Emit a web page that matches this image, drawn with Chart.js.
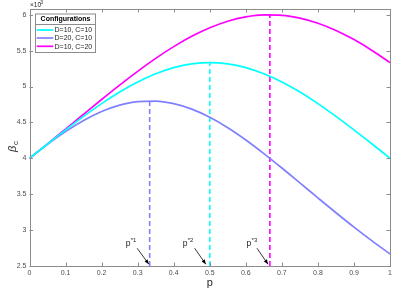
<!DOCTYPE html>
<html>
<head>
<meta charset="utf-8">
<script src="https://cdn.jsdelivr.net/npm/chart.js@4.4.1/dist/chart.umd.min.js"></script>
<style>
  html, body { margin: 0; padding: 0; background: #fff; }
  #wrap { width: 395px; height: 290px; }
</style>
</head>
<body>
<div id="wrap"><canvas id="betaChart"></canvas></div>
<script>
// p values and beta_c (x 1e-3)
var pValues = [0, 0.05, 0.1, 0.15, 0.2, 0.25, 0.3, 0.35, 0.4, 0.45, 0.5,
               0.55, 0.6, 0.65, 0.7, 0.75, 0.8, 0.85, 0.9, 0.95, 1];
var betaD10C10 = [4, 4.1995, 4.3956, 4.5845, 4.7619, 4.9231, 5.0633, 5.1780, 5.2632, 5.3156, 5.3333,
                  5.3156, 5.2632, 5.1780, 5.0633, 4.9231, 4.7619, 4.5845, 4.3956, 4.1995, 4];
var betaD20C10 = [4, 4.1940, 4.3716, 4.5262, 4.6512, 4.7407, 4.7904, 4.7976, 4.7619, 4.6852, 4.5714,
                  4.4260, 4.2553, 4.0661, 3.8647, 3.6571, 3.4483, 3.2421, 3.0418, 2.8495, 2.6667];
var betaD10C20 = [4, 4.2022, 4.4077, 4.6143, 4.8193, 5.0196, 5.2117, 5.3917, 5.5556, 5.6990, 5.8182,
                  5.9095, 5.9701, 5.9981, 5.9925, 5.9535, 5.8824, 5.7814, 5.6537, 5.5030, 5.3333];

var seriesNames = ["D=10, C=10", "D=20, C=10", "D=10, C=20"];
var seriesColors = ["#00ffff", "#8080ff", "#ff00ff"];

// optimal p* and the peak value for each configuration
var pStar = [0.5, 0.3333, 0.6667];
var betaStar = [5.3333, 4.8, 6.0];

// text arrows p*1, p*2, p*3 (data coordinates)
var arrowNames = ["1", "2", "3"];
var arrowTailP = [0.2986, 0.458, 0.631];
var arrowTipP = [0.331, 0.489, 0.6615];
var labelP = [0.267, 0.425, 0.602];

var xTicks = [0, 0.1, 0.2, 0.3, 0.4, 0.5, 0.6, 0.7, 0.8, 0.9, 1];
var yTicks = [2.5, 3, 3.5, 4, 4.5, 5, 5.5, 6];

function toPoints(xs, ys) {
    var pts = [];
    for (var i = 0; i < xs.length; i++) pts.push({x: xs[i], y: ys[i]});
    return pts;
}

function plainLabel(v) {
    return String(Math.round(v * 100) / 100);
}

var curves = [betaD10C10, betaD20C10, betaD10C20];
var datasets = [];
for (var i = 0; i < curves.length; i++) {
    datasets.push({
        label: seriesNames[i],
        data: toPoints(pValues, curves[i]),
        borderColor: seriesColors[i],
        borderWidth: 1.7,
        pointRadius: 0,
        cubicInterpolationMode: 'monotone',
        fill: false
    });
}
for (var j = 0; j < pStar.length; j++) {
    datasets.push({
        label: "p*" + (j + 1),
        data: [{x: pStar[j], y: 2.5}, {x: pStar[j], y: betaStar[j]}],
        borderColor: seriesColors[j],
        borderWidth: 1.6,
        borderDash: [5, 3],
        pointRadius: 0,
        fill: false
    });
}

var FONT = "'Liberation Sans', Arial, sans-serif";

var decorations = {
    id: 'decorations',
    afterDraw: function(chart) {
        var ctx = chart.ctx;
        var a = chart.chartArea;
        var xs = chart.scales.x, ys = chart.scales.y;
        ctx.save();

        // axes box with inward ticks
        ctx.strokeStyle = '#8c8c8c';
        ctx.lineWidth = 1;
        ctx.strokeRect(Math.round(a.left) + 0.5, Math.round(a.top) + 0.5,
                       Math.round(a.right - a.left) - 1, Math.round(a.bottom - a.top));
        ctx.beginPath();
        xs.ticks.forEach(function(t) {
            var px = Math.round(xs.getPixelForValue(t.value)) + 0.5;
            ctx.moveTo(px, a.bottom); ctx.lineTo(px, a.bottom - 3.5);
            ctx.moveTo(px, a.top); ctx.lineTo(px, a.top + 3.5);
        });
        ys.ticks.forEach(function(t) {
            var py = Math.round(ys.getPixelForValue(t.value)) + 0.5;
            ctx.moveTo(a.left, py); ctx.lineTo(a.left + 3.5, py);
            ctx.moveTo(a.right, py); ctx.lineTo(a.right - 3.5, py);
        });
        ctx.stroke();

        // x label
        ctx.fillStyle = '#262626';
        ctx.font = '11px ' + FONT;
        ctx.textAlign = 'center';
        ctx.textBaseline = 'middle';
        ctx.fillText('p', (a.left + a.right) / 2, 283);

        // y label beta_c
        ctx.save();
        ctx.translate(13, 147);
        ctx.rotate(-Math.PI / 2);
        ctx.font = 'italic 11px ' + FONT;
        ctx.textAlign = 'left';
        ctx.fillText('\u03b2', -5, 0);
        ctx.font = '8px ' + FONT;
        ctx.fillText('c', 2, 3);
        ctx.restore();

        // exponent label
        ctx.font = '6.5px ' + FONT;
        ctx.textAlign = 'left';
        ctx.fillText('\u00d710', 30, 5);
        ctx.font = '5px ' + FONT;
        ctx.fillText('-3', 38.5, 2.5);

        // text arrows
        var tailY = ys.getPixelForValue(2.747), tipY = ys.getPixelForValue(2.525);
        var labY = ys.getPixelForValue(2.82);
        for (var k = 0; k < arrowNames.length; k++) {
            var x0 = xs.getPixelForValue(arrowTailP[k]), x1 = xs.getPixelForValue(arrowTipP[k]);
            ctx.strokeStyle = '#000';
            ctx.fillStyle = '#000';
            ctx.lineWidth = 0.8;
            ctx.beginPath();
            ctx.moveTo(x0, tailY);
            ctx.lineTo(x1, tipY);
            ctx.stroke();
            var ang = Math.atan2(tipY - tailY, x1 - x0);
            ctx.beginPath();
            ctx.moveTo(x1, tipY);
            ctx.lineTo(x1 - 5 * Math.cos(ang - 0.38), tipY - 5 * Math.sin(ang - 0.38));
            ctx.lineTo(x1 - 5 * Math.cos(ang + 0.38), tipY - 5 * Math.sin(ang + 0.38));
            ctx.closePath();
            ctx.fill();

            var lx = xs.getPixelForValue(labelP[k]);
            ctx.fillStyle = '#262626';
            ctx.font = '8.5px ' + FONT;
            ctx.textAlign = 'left';
            ctx.fillText('p', lx, labY + 1);
            ctx.font = '6px ' + FONT;
            ctx.fillText('*' + arrowNames[k], lx + 5, labY - 2.5);
        }

        // legend
        var lx0 = 35, ly0 = 13.5, lw = 60, lh = 38.5;
        ctx.fillStyle = '#fff';
        ctx.fillRect(lx0, ly0, lw, lh);
        ctx.strokeStyle = '#8c8c8c';
        ctx.lineWidth = 1;
        ctx.strokeRect(lx0 + 0.5, ly0 + 0.5, lw, lh);
        ctx.beginPath();
        ctx.moveTo(lx0, 24.5); ctx.lineTo(lx0 + lw, 24.5);
        ctx.stroke();
        ctx.fillStyle = '#000';
        ctx.font = 'bold 7px ' + FONT;
        ctx.textAlign = 'center';
        ctx.fillText('Configurations', lx0 + lw / 2 + 0.5, 19.5);
        var rowY = [30, 38, 46.3];
        ctx.textAlign = 'left';
        ctx.font = '7px ' + FONT;
        for (var r = 0; r < seriesNames.length; r++) {
            ctx.strokeStyle = seriesColors[r];
            ctx.lineWidth = 1.7;
            ctx.beginPath();
            ctx.moveTo(36.7, rowY[r]); ctx.lineTo(53.3, rowY[r]);
            ctx.stroke();
            ctx.fillStyle = '#262626';
            ctx.fillText(seriesNames[r], 54.5, rowY[r] + 0.5);
        }
        ctx.restore();
    }
};

new Chart(document.getElementById('betaChart'), {
    type: 'line',
    data: { datasets: datasets },
    options: {
        responsive: true,
        maintainAspectRatio: false,
        animation: false,
        layout: { padding: { top: 9, right: 4.5, left: 0, bottom: 0 } },
        plugins: {
            legend: { display: false },
            tooltip: { enabled: false }
        },
        scales: {
            x: {
                type: 'linear',
                min: 0, max: 1,
                afterBuildTicks: function(s) {
                    s.ticks = xTicks.map(function(v) { return {value: v}; });
                },
                ticks: {
                    font: { size: 7, family: FONT },
                    color: '#4d4d4d',
                    maxRotation: 0,
                    padding: 3,
                    autoSkip: false,
                    callback: plainLabel
                },
                grid: { display: false, drawTicks: false },
                border: { display: false },
                afterFit: function(s) { s.height = 24; }
            },
            y: {
                min: 2.5, max: 6.08,
                afterBuildTicks: function(s) {
                    s.ticks = yTicks.map(function(v) { return {value: v}; });
                },
                ticks: {
                    font: { size: 7, family: FONT },
                    color: '#4d4d4d',
                    padding: 3,
                    autoSkip: false,
                    callback: plainLabel
                },
                grid: { display: false, drawTicks: false },
                border: { display: false },
                afterFit: function(s) { s.width = 29.5; }
            }
        }
    },
    plugins: [decorations]
});
</script>
</body>
</html>
